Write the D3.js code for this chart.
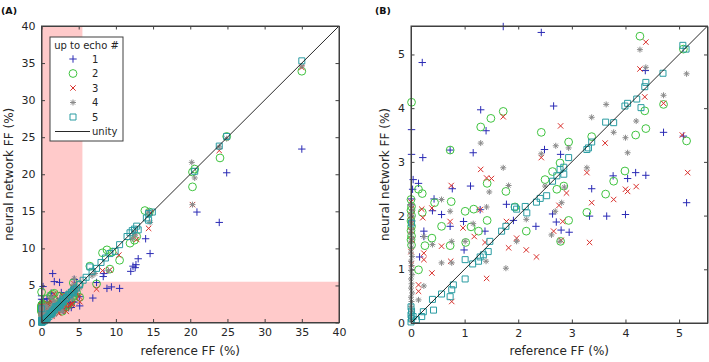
<!doctype html>
<html lang="en">
<head>
    <meta charset="utf-8"/>
    <title>reference FF vs neural network FF</title>
    <script src="https://d3js.org/d3.v7.min.js"></script>
    <style>
        body { margin: 0; padding: 0; background: #fff; }
        svg { font-family: 'DejaVu Sans', Verdana, sans-serif; }
    </style>
</head>
<body>
<script>
    // [reference FF, neural network FF] in %, one array per "up to echo #"
    const echo1 = [
        [35.0, 23.4], [24.9, 20.2], [20.9, 14.9], [23.9, 13.5], [14.0, 11.3], [14.6, 9.3], [13.0, 8.6],
        [12.7, 7.8], [12.3, 7.6], [12.6, 7.4], [12.0, 6.9], [8.4, 6.6], [8.3, 6.2], [7.4, 5.4], [8.8, 4.6],
        [9.4, 4.8], [10.5, 4.6], [6.9, 3.3], [1.5, 6.6], [4.4, 5.8],
        [1.72, 5.52], [2.43, 5.41], [0.21, 4.85], [0.01, 3.60], [1.30, 3.97], [1.40, 3.58], [0.01, 3.14],
        [0.22, 3.08], [1.16, 3.17], [0.73, 3.22], [2.66, 4.04], [2.49, 3.23], [2.79, 3.14], [0.04, 2.67],
        [0.14, 2.60], [0.03, 2.49], [0.01, 2.31], [0.43, 2.31], [0.40, 2.09], [0.57, 2.02], [0.73, 1.80],
        [0.77, 2.50], [0.98, 1.89], [0.99, 1.36], [1.11, 2.55], [1.29, 2.11], [1.38, 1.71], [1.78, 2.21],
        [1.91, 1.91], [2.33, 1.80], [2.64, 2.03], [2.71, 1.88], [2.80, 1.73], [2.95, 1.69], [3.37, 2.50],
        [3.33, 1.99], [0.24, 1.71], [0.24, 1.61], [0.16, 1.23], [3.65, 1.99], [3.77, 2.74], [4.19, 2.80],
        [4.38, 2.75], [4.00, 2.02], [4.04, 2.69], [4.71, 3.55], [4.37, 4.70], [5.08, 3.48], [5.14, 2.24],
        [0.01, 1.90], [0.00, 2.20]
    ];
    const echo2 = [
        [35.0, 33.9], [24.9, 25.1], [24.0, 22.2], [20.3, 18.3], [20.6, 20.7], [20.3, 20.3], [13.9, 15.1],
        [11.9, 10.7], [12.5, 11.1], [8.2, 9.4], [8.8, 9.8], [10.5, 8.4], [9.2, 7.2], [7.4, 5.2], [6.5, 7.6],
        [12.8, 11.6], [14.5, 14.9], [9.5, 9.5],
        [4.27, 5.34], [5.08, 5.10], [0.01, 4.11], [1.72, 3.94], [1.30, 3.65], [1.49, 3.81], [2.43, 3.55],
        [0.73, 3.22], [2.94, 3.37], [3.37, 3.47], [2.78, 2.98], [4.19, 3.50], [4.38, 3.62], [4.36, 3.95],
        [4.71, 4.07], [5.14, 3.39], [3.63, 2.40], [3.78, 2.64], [3.99, 2.83], [2.64, 2.82], [2.50, 2.67],
        [2.72, 2.49], [2.85, 2.55],
        [0.14, 2.49], [0.21, 2.41], [0.21, 2.06], [0.26, 1.44], [0.39, 1.58], [0.57, 1.80], [0.44, 2.24],
        [0.75, 2.26], [0.73, 1.44], [1.01, 2.08], [1.02, 1.50], [1.17, 2.12], [1.12, 1.79], [1.26, 1.71],
        [1.42, 2.60], [1.42, 1.91], [1.77, 2.45], [1.94, 2.16], [2.15, 1.71], [2.79, 1.52], [2.94, 1.91],
        [3.28, 2.06], [0.14, 0.99],
        [0.01, 1.45], [0.00, 1.55], [0.01, 1.62], [0.00, 1.72], [0.01, 1.80], [0.00, 1.90], [0.01, 2.00],
        [0.00, 2.10], [0.01, 2.17], [0.00, 2.30]
    ];
    const echo3 = [
        [35.0, 34.4], [23.9, 23.2], [20.3, 15.9], [14.4, 12.7], [12.8, 11.2], [10.4, 9.1], [9.2, 7.1],
        [7.4, 4.5], [8.2, 7.0], [14.6, 14.8], [12.5, 12.1],
        [4.38, 5.23], [4.27, 4.73], [4.36, 4.21], [1.72, 3.84], [2.79, 3.67], [3.62, 3.35], [2.43, 3.08],
        [1.30, 2.86], [1.41, 2.70], [1.50, 2.69], [3.28, 2.80], [3.37, 2.24], [3.78, 2.30], [4.00, 2.49],
        [4.04, 2.45], [4.20, 2.54], [4.71, 4.09], [5.06, 3.50], [5.16, 2.80], [2.76, 2.19], [2.90, 2.42],
        [0.75, 2.56], [0.20, 2.12], [0.22, 1.96], [0.39, 2.14], [0.57, 1.43], [0.73, 1.89], [0.74, 1.15],
        [0.39, 0.93], [0.14, 0.71], [0.14, 0.59], [0.24, 1.30], [0.24, 1.18], [0.97, 1.77], [1.18, 1.61],
        [1.29, 2.11], [1.38, 1.50], [1.41, 0.83], [0.76, 0.40], [1.78, 1.89], [1.82, 1.40], [1.97, 1.58],
        [2.15, 1.36], [2.34, 1.23], [2.66, 1.71], [2.83, 1.89], [2.80, 1.54], [3.33, 1.50],
        [0.01, 1.10], [0.00, 1.33], [0.01, 1.55], [0.00, 1.72], [0.01, 1.86], [0.00, 2.00], [0.01, 2.13],
        [0.00, 2.25]
    ];
    const echo4 = [
        [35.0, 34.6], [20.2, 21.6], [20.6, 19.5], [23.9, 23.7], [24.9, 24.8], [20.3, 15.9], [14.6, 13.5],
        [14.3, 14.9], [12.6, 11.8], [12.2, 11.3], [9.0, 7.0], [6.8, 6.3], [7.2, 6.6], [4.4, 5.95],
        [4.27, 5.09], [4.38, 4.76], [5.14, 4.64], [4.71, 4.24], [4.20, 3.76], [4.00, 3.45], [4.04, 3.17],
        [3.64, 4.07], [3.78, 3.55], [3.37, 3.83], [3.28, 2.89], [2.70, 3.30], [2.94, 3.26], [2.43, 3.15],
        [1.30, 3.35], [1.72, 2.89], [2.86, 2.53], [2.50, 2.55],
        [1.46, 2.44], [0.73, 2.08], [1.82, 2.56], [1.41, 2.16], [0.40, 1.46], [0.76, 1.52], [0.57, 1.12],
        [0.76, 1.12], [0.24, 0.69], [1.01, 1.52], [1.40, 1.15], [1.77, 1.02], [2.15, 1.93], [1.97, 1.52],
        [2.69, 2.08], [2.81, 2.24], [2.62, 1.64], [2.78, 1.52], [0.24, 1.61], [0.14, 0.43], [0.57, 2.30],
        [1.16, 1.85],
        [0.01, 0.05], [0.00, 0.14], [0.02, 0.22], [0.00, 0.31], [0.01, 0.40], [0.00, 0.48], [0.02, 0.56],
        [0.00, 0.65], [0.01, 0.73], [0.00, 0.82], [0.02, 0.90], [0.00, 0.98], [0.01, 1.07], [0.00, 1.15],
        [0.02, 1.24], [0.00, 1.32], [0.01, 1.41], [0.00, 1.50], [0.02, 1.58], [0.00, 1.67], [0.01, 1.75],
        [0.00, 1.84], [0.01, 1.92], [0.00, 2.01], [0.02, 2.10], [0.00, 2.20]
    ];
    const echo5 = [
        [35.0, 35.3], [24.9, 25.1], [23.9, 23.8], [20.6, 20.4], [6.5, 7.5], [6.8, 6.9], [7.4, 7.3],
        [8.0, 8.1], [8.6, 8.7], [9.2, 9.3], [9.9, 9.6], [10.5, 10.5], [11.5, 11.6], [11.9, 12.1],
        [12.2, 12.4], [12.5, 12.6], [12.8, 13.0], [13.0, 12.5], [14.1, 14.1], [14.4, 14.7], [14.9, 14.9],
        [14.4, 13.8], [5.6, 5.7], [6.0, 6.1],
        [5.07, 5.17], [5.13, 5.10], [4.70, 4.65], [4.38, 4.48], [4.36, 4.40], [4.21, 4.17], [4.29, 4.01],
        [4.04, 4.09], [3.99, 4.04], [3.63, 3.74], [3.78, 3.73], [3.37, 3.37], [3.31, 3.26], [3.28, 3.23],
        [2.94, 3.08], [2.85, 2.90], [2.78, 2.86], [2.85, 2.77], [2.72, 2.74], [2.64, 2.64],
        [0.04, 0.12], [0.10, 0.06], [0.23, 0.21], [0.20, 0.12], [0.42, 0.24], [0.40, 0.44], [0.57, 0.54],
        [0.76, 0.62], [0.73, 0.49], [0.79, 0.71], [1.01, 0.82], [1.01, 1.18], [1.15, 1.10], [1.26, 1.15],
        [1.29, 1.23], [1.35, 1.27], [1.44, 1.33], [1.47, 1.52], [1.69, 1.71], [1.77, 1.80], [1.97, 2.12],
        [2.13, 2.17], [2.16, 2.05], [2.34, 2.25], [2.53, 2.37], [2.41, 2.32], [1.93, 2.16],
        [0.00, 0.02], [0.01, 0.08], [0.00, 0.15], [0.01, 0.22], [0.00, 0.30], [0.01, 1.86]
    ];

    const echoLabels = ['1', '2', '3', '4', '5'];
    const ticksA = [0, 5, 10, 15, 20, 25, 30, 35, 40];
    const ticksB = [0, 1, 2, 3, 4, 5];
    const shadeLimit = 5.5;   // pink bands in (A)

    const series = [
        {data: echo1, color: '#2b2bb5', shape: 'plus'},
        {data: echo2, color: '#3fc43f', shape: 'circle'},
        {data: echo3, color: '#d9302c', shape: 'cross'},
        {data: echo4, color: '#8a8a8a', shape: 'star'},
        {data: echo5, color: '#2a9ca2', shape: 'square'}
    ];

    const W = 709, H = 362;
    const axisColor = '#404040';
    const textColor = '#262626';

    const svg = d3.select('body').append('svg')
        .attr('width', W).attr('height', H);

    // marker paths centred on 0,0
    function markerPath(shape) {
        if (shape === 'plus') return 'M-3.7,0H3.7M0,-3.7V3.7';
        if (shape === 'cross') return 'M-2.7,-2.7L2.7,2.7M-2.7,2.7L2.7,-2.7';
        if (shape === 'star') return 'M-3,0H3M0,-3V3M-2.1,-2.1L2.1,2.1M-2.1,2.1L2.1,-2.1';
        if (shape === 'square') return 'M-3,-3H3V3H-3Z';
        return null;
    }

    function drawMarkers(g, s, pts, x, y) {
        if (s.shape === 'circle') {
            g.selectAll(null).data(pts).enter().append('circle')
                .attr('cx', d => x(d[0])).attr('cy', d => y(d[1])).attr('r', 3.9)
                .attr('fill', 'none').attr('stroke', s.color).attr('stroke-width', 1);
        } else {
            g.selectAll(null).data(pts).enter().append('path')
                .attr('transform', d => `translate(${x(d[0])},${y(d[1])})`)
                .attr('d', markerPath(s.shape))
                .attr('fill', 'none').attr('stroke', s.color).attr('stroke-width', 1);
        }
    }

    function panel(opts) {
        const x = d3.scaleLinear().domain([0, opts.max]).range([opts.left, opts.right]);
        const y = d3.scaleLinear().domain([0, opts.max]).range([opts.bottom, opts.top]);
        const g = svg.append('g');
        const fmt = d3.format('d');

        if (opts.shade) {
            g.append('rect')
                .attr('x', x(0)).attr('y', y(opts.max))
                .attr('width', x(shadeLimit) - x(0)).attr('height', y(0) - y(opts.max))
                .attr('fill', '#ffcaca');
            g.append('rect')
                .attr('x', x(0)).attr('y', y(shadeLimit))
                .attr('width', x(opts.max) - x(0)).attr('height', y(0) - y(shadeLimit))
                .attr('fill', '#ffcaca');
        }

        // points, only those inside the axis limits (as matlab does)
        series.forEach(s => {
            const pts = s.data.filter(d => d[0] <= opts.max && d[1] <= opts.max);
            drawMarkers(g.append('g'), s, pts, x, y);
        });

        // unity line
        g.append('line')
            .attr('x1', x(0)).attr('y1', y(0)).attr('x2', x(opts.max)).attr('y2', y(opts.max))
            .attr('stroke', '#111').attr('stroke-width', 0.9);

        // axes, ticks inward on all four sides
        const tl = 3.5;
        g.append('g').attr('transform', `translate(0,${opts.bottom})`)
            .call(d3.axisBottom(x).tickValues(opts.ticks).tickFormat(fmt).tickSizeInner(-tl).tickSizeOuter(0).tickPadding(6));
        g.append('g').attr('transform', `translate(0,${opts.top})`)
            .call(d3.axisTop(x).tickValues(opts.ticks).tickSizeInner(-tl).tickSizeOuter(0).tickFormat(''));
        g.append('g').attr('transform', `translate(${opts.left},0)`)
            .call(d3.axisLeft(y).tickValues(opts.ticks).tickFormat(fmt).tickSizeInner(-tl).tickSizeOuter(0).tickPadding(6));
        g.append('g').attr('transform', `translate(${opts.right},0)`)
            .call(d3.axisRight(y).tickValues(opts.ticks).tickSizeInner(-tl).tickSizeOuter(0).tickFormat(''));

        g.selectAll('.domain').attr('stroke', axisColor);
        g.selectAll('.tick line').attr('stroke', axisColor);
        g.selectAll('.tick text')
            .attr('fill', textColor)
            .style('font-size', '11px')
            .style('font-family', "'DejaVu Sans', Verdana, sans-serif");

        g.append('rect')
            .attr('x', opts.left).attr('y', opts.top)
            .attr('width', opts.right - opts.left).attr('height', opts.bottom - opts.top)
            .attr('fill', 'none').attr('stroke', axisColor).attr('stroke-width', 1);

        // labels
        g.append('text')
            .attr('x', (opts.left + opts.right) / 2).attr('y', 355)
            .attr('text-anchor', 'middle').attr('fill', textColor)
            .style('font-size', '12px')
            .text('reference FF (%)');
        g.append('text')
            .attr('transform', `translate(${opts.left - opts.ylabOff},${(opts.top + opts.bottom) / 2}) rotate(-90)`)
            .attr('text-anchor', 'middle').attr('fill', textColor)
            .style('font-size', '12px')
            .text('neural network FF (%)');
        g.append('text')
            .attr('x', opts.tagX).attr('y', 14)
            .attr('fill', '#111').style('font-size', '9.5px').style('font-weight', 'bold')
            .text(opts.tag);
        return {x, y};
    }

    panel({left: 41.5, right: 339, top: 26, bottom: 322.5, max: 40, ticks: ticksA, shade: true,
        tag: '(A)', tagX: 1, ylabOff: 29});
    panel({left: 411, right: 707.5, top: 26, bottom: 323, max: 5.53, ticks: ticksB, shade: false,
        tag: '(B)', tagX: 375, ylabOff: 22});

    // legend in panel (A)
    const lg = svg.append('g');
    const lx = 50, ly = 37, lw = 73, lh = 104;
    lg.append('rect').attr('x', lx).attr('y', ly).attr('width', lw).attr('height', lh)
        .attr('fill', '#fff').attr('stroke', axisColor).attr('stroke-width', 1);
    lg.append('text').attr('x', lx + lw / 2).attr('y', ly + 12).attr('text-anchor', 'middle')
        .attr('fill', textColor).style('font-size', '10px').text('up to echo #');
    const rowY = [59, 73.5, 88, 102.5, 117];
    series.forEach((s, i) => {
        drawMarkers(lg.append('g'), s, [[0, 0]], () => 73, () => rowY[i]);
        lg.append('text').attr('x', 92).attr('y', rowY[i] + 3.8)
            .attr('fill', textColor).style('font-size', '10px').text(echoLabels[i]);
    });
    lg.append('line').attr('x1', 55).attr('x2', 90).attr('y1', 131.5).attr('y2', 131.5)
        .attr('stroke', '#111').attr('stroke-width', 0.9);
    lg.append('text').attr('x', 92).attr('y', 135.3)
        .attr('fill', textColor).style('font-size', '10px').text('unity');
</script>
</body>
</html>
